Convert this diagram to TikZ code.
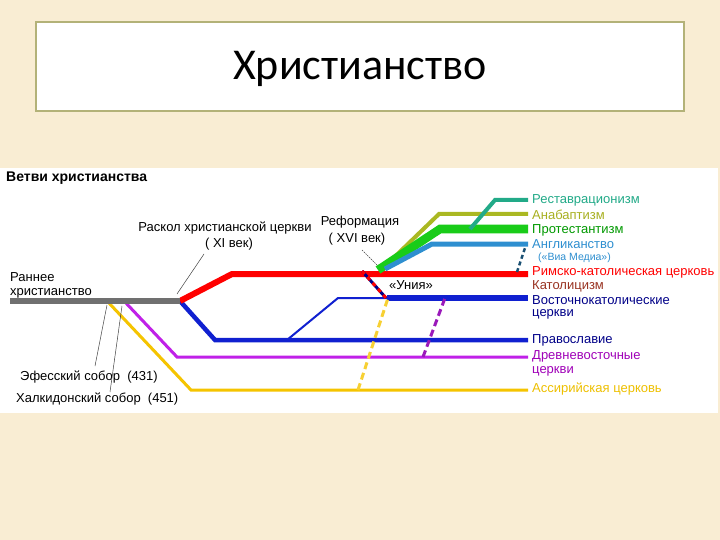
\documentclass[tikz,border=0pt]{standalone}
\usepackage{fontspec}
\setmainfont{Liberation Sans}
\newfontfamily\titlefont{Carlito}
\definecolor{bgbeige}{HTML}{F9EDD3}
\definecolor{boxedge}{HTML}{B3B278}
\definecolor{cgray}{HTML}{707070}
\definecolor{cred}{HTML}{FF0000}
\definecolor{cblue}{HTML}{1020D0}
\definecolor{cmag}{HTML}{C020E8}
\definecolor{cgold}{HTML}{F5C400}
\definecolor{cgreen}{HTML}{19CC19}
\definecolor{colive}{HTML}{AAB822}
\definecolor{cteal}{HTML}{22AA88}
\definecolor{cangl}{HTML}{2E8FD0}
\definecolor{tgreen}{HTML}{009900}
\definecolor{tolive}{HTML}{A8B020}
\definecolor{tbrown}{HTML}{993322}
\definecolor{tnavy}{HTML}{000088}
\definecolor{tpurple}{HTML}{A000B8}
\definecolor{tgold}{HTML}{EEC000}
\tikzset{
  br/.style={line width=#1, line cap=butt, line join=miter},
  lbl/.style={anchor=west, inner sep=0pt, font=\fontsize{13}{15}\selectfont},
  llbl/.style={inner sep=0pt, font=\fontsize{13}{15}\selectfont},
  leader/.style={draw=black!75, line width=0.5pt},
}
\begin{document}
\begin{tikzpicture}[x=1pt,y=-1pt]
\useasboundingbox (0,0) rectangle (720,540);
\fill[bgbeige] (0,0) rectangle (720,540);
% title box
\node[draw=boxedge, line width=1.6pt, fill=white, minimum width=648pt, minimum height=89pt, inner sep=0pt] (tbox) at (360,66.5) {};
\node[font=\titlefont\fontsize{44}{48}\selectfont] (title) at (360,69) {Христианство};
% diagram panel
\fill[white] (0,168) rectangle (718,413);
\node[anchor=west, inner sep=0pt, font=\bfseries\fontsize{14}{16}\selectfont] (head) at (6,178) {Ветви христианства};

% coordinates
\coordinate (split) at (180,301);
\coordinate (r1) at (232,274); \coordinate (r2) at (528,274);
\coordinate (o1) at (215,340); \coordinate (o2) at (528,340);
\coordinate (e0) at (287,340); \coordinate (e1) at (338,298); \coordinate (e2) at (387,298); \coordinate (e3) at (528,298);
\coordinate (m0) at (125,302); \coordinate (m1) at (177,357); \coordinate (m2) at (528,357);
\coordinate (y0) at (108,302); \coordinate (y1) at (191,390); \coordinate (y2) at (528,390);
\coordinate (ref) at (378,270);
\coordinate (ol1) at (439,214); \coordinate (ol2) at (528,214);
\coordinate (g1) at (440,229); \coordinate (g2) at (528,229);
\coordinate (an1) at (432,244); \coordinate (an2) at (528,244);
\coordinate (t0) at (470,229); \coordinate (t1) at (495,200); \coordinate (t2) at (528,200);

% main branches
\draw[br=3pt, cgold] (y0) -- (y1) -- (y2);
\draw[br=3pt, cmag] (m0) -- (m1) -- (m2);
\draw[br=4.5pt, cblue] (split) -- (o1) -- (o2);
\draw[br=2pt, cblue] (e0) -- (e1) -- (e2);
\draw[br=6pt, cblue] (e2) -- (e3);
\draw[br=6pt, cred] (split) -- (r1) -- (r2);
\draw[br=6pt, cgray] (10,301) -- (split);

% reformation
\draw[br=4pt, colive] (381,270) -- (ol1) -- (ol2);
\draw[br=8.5pt, cgreen] (ref) -- (g1) -- (g2);
\draw[br=5pt, cangl] (385,269) -- (an1) -- (an2);
\draw[br=4pt, cteal] (t0) -- (t1) -- (t2);

% dashed links
\coordinate (u0) at (362,271); \coordinate (u1) at (386,298);
\draw[br=3pt, tnavy] (u0) -- (u1);
\draw[br=3pt, cred, dash pattern=on 4pt off 4pt] (u0) -- (u1);
\draw[br=3pt, cgold!80, dash pattern=on 7pt off 4pt] (358,390) -- (388,298);
\draw[br=3pt, cmag!80!black, dash pattern=on 7pt off 4pt] (423,357) -- (445,298);
\draw[br=2.5pt, black!45!cangl, dash pattern=on 4pt off 3pt] (517,272) -- (525,248);

% labels right
\node[lbl, text=cteal] (lrest) at (532,200) {Реставрационизм};
\node[lbl, text=tolive] (lanab) at (532,215) {Анабаптизм};
\node[lbl, text=tgreen] (lprot) at (532,230) {Протестантизм};
\node[lbl, text=cangl] (langl) at (532,244) {Англиканство};
\node[lbl, text=cangl, font=\fontsize{10.5}{12}\selectfont] (lvia) at (538,258) {(«Виа Медиа»)};
\node[lbl, text=cred] (lrom) at (532,272) {Римско-католическая церковь};
\node[lbl, text=tbrown] (lcat) at (532,286) {Католицизм};
\node[lbl, text=tnavy] (lec1) at (532,300) {Восточнокатолические};
\node[lbl, text=tnavy] (lec2) at (532,314) {церкви};
\node[lbl, text=tnavy] (lorth) at (532,340) {Православие};
\node[lbl, text=tpurple] (lanc1) at (532,356) {Древневосточные};
\node[lbl, text=tpurple] (lanc2) at (532,371) {церкви};
\node[lbl, text=tgold] (lass) at (532,389) {Ассирийская церковь};

% labels left
\node[lbl] (lear1) at (10,277) {Раннее};
\node[lbl] (lear2) at (10,293) {христианство};
\node[llbl] (lsch1) at (225,228) {Раскол христианской церкви};
\node[llbl] (lsch2) at (229,244) {( XI век)};
\node[llbl] (lref1) at (360,222) {Реформация};
\node[llbl] (lref2) at (357,239) {( XVI век)};
\node[lbl] (leph) at (20,377) {Эфесский собор\ \ (431)};
\node[lbl] (lchal) at (16,399) {Халкидонский собор\ \ (451)};
\node[llbl] (luni) at (411,285) {«Уния»};

% leaders
\coordinate (ls) at (177,294);
\draw[leader] (204,254) -- (ls);
\draw[leader, dash pattern=on 1.5pt off 1pt] (362,250) -- (377,265);
\draw[leader] (107,305) -- (95,366);
\draw[leader] (122,306) -- (110,392);
\end{tikzpicture}
\end{document}
